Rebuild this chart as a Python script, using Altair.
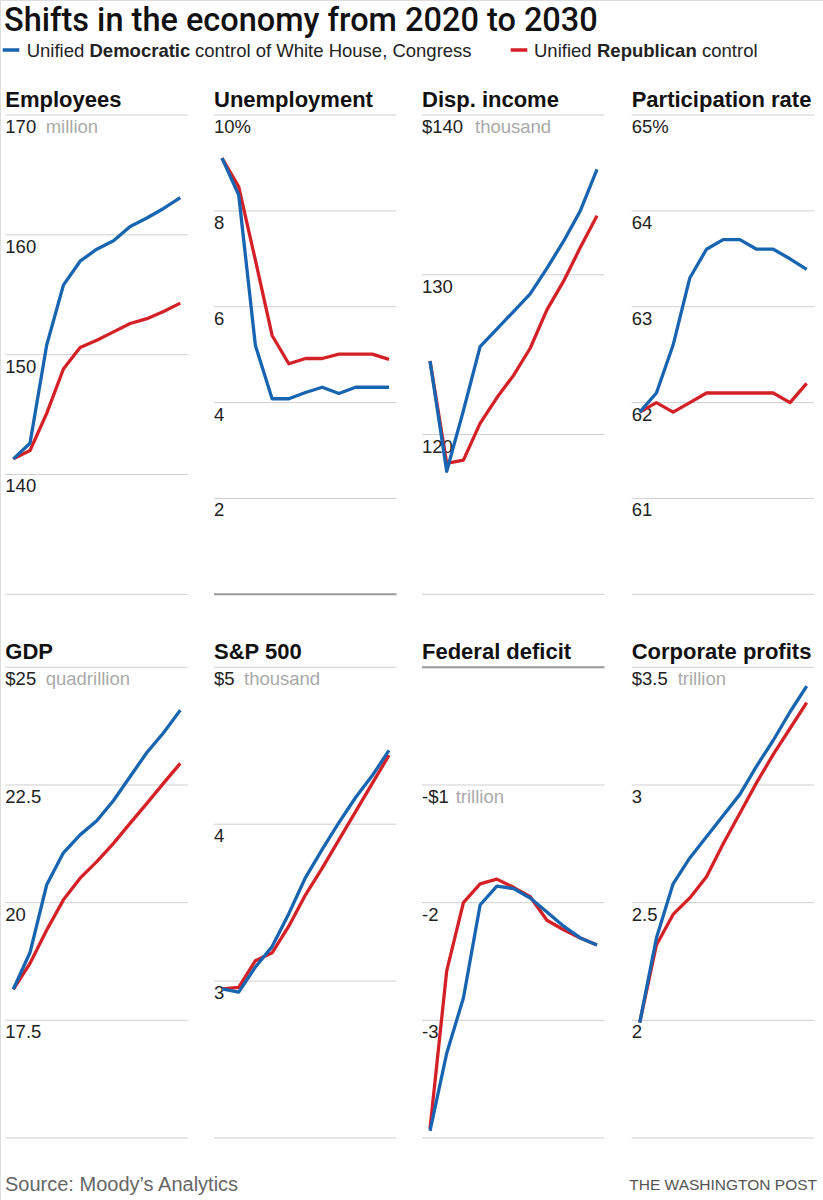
import altair as alt
import pandas as pd

# ---------------- data ----------------
years = list(range(2020, 2031))

employees_dem = [141.3, 142.6, 150.8, 155.8, 157.8, 158.8, 159.5, 160.7, 161.4, 162.2, 163.1]
employees_rep = [141.3, 142.0, 145.1, 148.8, 150.6, 151.2, 151.9, 152.6, 153.0, 153.6, 154.3]
unemp_dem = [9.10, 8.33, 5.19, 4.08, 4.08, 4.21, 4.32, 4.19, 4.32, 4.32, 4.32]
unemp_rep = [9.10, 8.50, 6.97, 5.40, 4.81, 4.92, 4.92, 5.01, 5.01, 5.01, 4.90]
income_dem = [124.6, 117.7, 121.5, 125.5, 126.6, 127.7, 128.8, 130.4, 132.1, 134.0, 136.6]
income_rep = [124.6, 118.2, 118.4, 120.7, 122.3, 123.7, 125.4, 127.8, 129.6, 131.7, 133.7]
partic_dem = [61.90, 62.10, 62.60, 63.30, 63.60, 63.70, 63.70, 63.60, 63.60, 63.50, 63.39]
partic_rep = [61.90, 62.00, 61.90, 62.00, 62.10, 62.10, 62.10, 62.10, 62.10, 62.00, 62.20]
gdp_dem = [18.16, 18.94, 20.38, 21.06, 21.44, 21.74, 22.17, 22.68, 23.19, 23.61, 24.09]
gdp_rep = [18.16, 18.71, 19.42, 20.06, 20.52, 20.87, 21.26, 21.69, 22.11, 22.54, 22.96]
sp_dem = [2.95, 2.93, 3.09, 3.22, 3.43, 3.66, 3.84, 4.01, 4.17, 4.31, 4.47]
sp_rep = [2.95, 2.96, 3.13, 3.18, 3.35, 3.55, 3.72, 3.90, 4.08, 4.26, 4.44]
deficit_dem = [-3.94, -3.28, -2.81, -2.02, -1.86, -1.88, -1.96, -2.08, -2.20, -2.30, -2.36]
deficit_rep = [-3.92, -2.58, -2.00, -1.84, -1.80, -1.87, -1.95, -2.15, -2.23, -2.30, -2.36]
profits_dem = [1.99, 2.35, 2.58, 2.69, 2.78, 2.87, 2.96, 3.08, 3.19, 3.31, 3.42]
profits_rep = [1.99, 2.32, 2.45, 2.52, 2.61, 2.75, 2.88, 3.01, 3.13, 3.24, 3.35]

panel_titles = ["Employees", "Unemployment", "Disp. income", "Participation rate",
                "GDP", "S&P 500", "Federal deficit", "Corporate profits"]
dem_series = [employees_dem, unemp_dem, income_dem, partic_dem, gdp_dem, sp_dem, deficit_dem, profits_dem]
rep_series = [employees_rep, unemp_rep, income_rep, partic_rep, gdp_rep, sp_rep, deficit_rep, profits_rep]

y_domains = [[130, 170], [0, 10], [110, 140], [60, 65], [15, 25], [2, 5], [-4, 0], [1.5, 3.5]]
grid_values = [[170, 160, 150, 140, 130], [10, 8, 6, 4, 2, 0], [140, 130, 120, 110],
               [65, 64, 63, 62, 61, 60], [25, 22.5, 20, 17.5, 15], [5, 4, 3, 2],
               [0, -1, -2, -3, -4], [3.5, 3, 2.5, 2, 1.5]]
tick_labels = [["170", "160", "150", "140", ""], ["10%", "8", "6", "4", "2", ""],
               ["$140", "130", "120", ""], ["65%", "64", "63", "62", "61", ""],
               ["$25", "22.5", "20", "17.5", ""], ["$5", "4", "3", ""],
               ["", "-$1", "-2", "-3", ""], ["$3.5", "3", "2.5", "2", ""]]
unit_words = ["million", "", "thousand", "", "quadrillion", "thousand", "trillion", "trillion"]
unit_at = [170, None, 140, None, 25, 5, -1, 3.5]

# ---------------- layout / style ----------------
BLUE = "#1764b0"
RED = "#d42027"
FONT = "Liberation Sans"
panel_lefts = [5.3, 214.0, 422.0, 631.7]
panel_w = 182.5
row_tb = [(115.0, 594.3), (667.3, 1138.0)]
unit_dx = [40.4, 0, 53, 0, 40.4, 30, 33.7, 46]
x_domain = [2019.52, 2030.45]

layers = []

for i in range(8):
    left = panel_lefts[i % 4]
    top, bottom = row_tb[i // 4]
    xs = alt.Scale(domain=x_domain, range=[left, left + panel_w], nice=False, zero=False)
    ys = alt.Scale(domain=y_domains[i], range=[bottom, top], nice=False, zero=False)

    grid_df = pd.DataFrame({
        "v": grid_values[i],
        "label": tick_labels[i],
        "c": ["#999999" if v == 0 else "#d0d0d0" for v in grid_values[i]],
        "w": [2 if v == 0 else 1 for v in grid_values[i]],
    })
    layers.append(
        alt.Chart(grid_df).mark_rule().encode(
            y=alt.Y("v:Q", scale=ys, axis=None),
            x=alt.value(left), x2=alt.value(left + panel_w),
            color=alt.Color("c:N", scale=None, legend=None),
            strokeWidth=alt.StrokeWidth("w:Q", scale=None, legend=None),
        )
    )
    layers.append(
        alt.Chart(grid_df).mark_text(align="left", baseline="alphabetic", dy=18,
                                     font=FONT, fontSize=18.5, color="#222222").encode(
            y=alt.Y("v:Q", scale=ys, axis=None),
            x=alt.value(left),
            text="label:N",
        )
    )
    if unit_words[i]:
        unit_df = pd.DataFrame({"v": [unit_at[i]], "t": [unit_words[i]]})
        layers.append(
            alt.Chart(unit_df).mark_text(align="left", baseline="alphabetic", dy=18,
                                         font=FONT, fontSize=18.5, color="#aaaaaa").encode(
                y=alt.Y("v:Q", scale=ys, axis=None),
                x=alt.value(left + unit_dx[i]),
                text="t:N",
            )
        )
    for series, col in ((rep_series[i], RED), (dem_series[i], BLUE)):
        df = pd.DataFrame({"year": years, "value": series})
        layers.append(
            alt.Chart(df).mark_line(color=col, strokeWidth=3.3, strokeJoin="round").encode(
                x=alt.X("year:Q", scale=xs, axis=None),
                y=alt.Y("value:Q", scale=ys, axis=None),
            )
        )
    tdf = pd.DataFrame({"t": [panel_titles[i]]})
    layers.append(
        alt.Chart(tdf).mark_text(align="left", baseline="alphabetic", font=FONT,
                                 fontSize=22, fontWeight="bold", color="#111111").encode(
            x=alt.value(left), y=alt.value(top - 8.5), text="t:N",
        )
    )


def text_layer(t, x, y, size, weight="normal", color="#222222", align="left", font=FONT):
    return alt.Chart(pd.DataFrame({"t": [t]})).mark_text(
        align=align, baseline="alphabetic", font=font, fontSize=size,
        fontWeight=weight, color=color).encode(x=alt.value(x), y=alt.value(y), text="t:N")


def dash_layer(x1, x2, y, color):
    return alt.Chart(pd.DataFrame({"a": [0]})).mark_rule(color=color, strokeWidth=3.5).encode(
        x=alt.value(x1), x2=alt.value(x2), y=alt.value(y))


header = [
    text_layer("Shifts in the economy from 2020 to 2030", 4, 31, 32.5, weight=500,
               color="#111111", font="Roboto"),
    dash_layer(2.7, 19.3, 50, BLUE),
    text_layer("Unified", 26.7, 57, 18.5),
    text_layer("Democratic", 89.5, 57, 18.5, weight="bold"),
    text_layer("control of White House, Congress", 195, 57, 18.5),
    dash_layer(510.7, 527.3, 50, RED),
    text_layer("Unified", 534, 57, 18.5),
    text_layer("Republican", 597, 57, 18.5, weight="bold"),
    text_layer("control", 702, 57, 18.5),
    text_layer("Source: Moody\u2019s Analytics", 5, 1191, 20, color="#666666"),
    text_layer("THE WASHINGTON POST", 817, 1190, 15.5, color="#555555", align="right"),
]

chart = alt.layer(*(layers + header)).resolve_scale(
    x="independent", y="independent"
).properties(
    width=823, height=1200, autosize="none", padding=0
).configure_view(stroke=None).configure(background="white")

chart.save("out.html", embed_options={"renderer": "svg", "actions": False})
